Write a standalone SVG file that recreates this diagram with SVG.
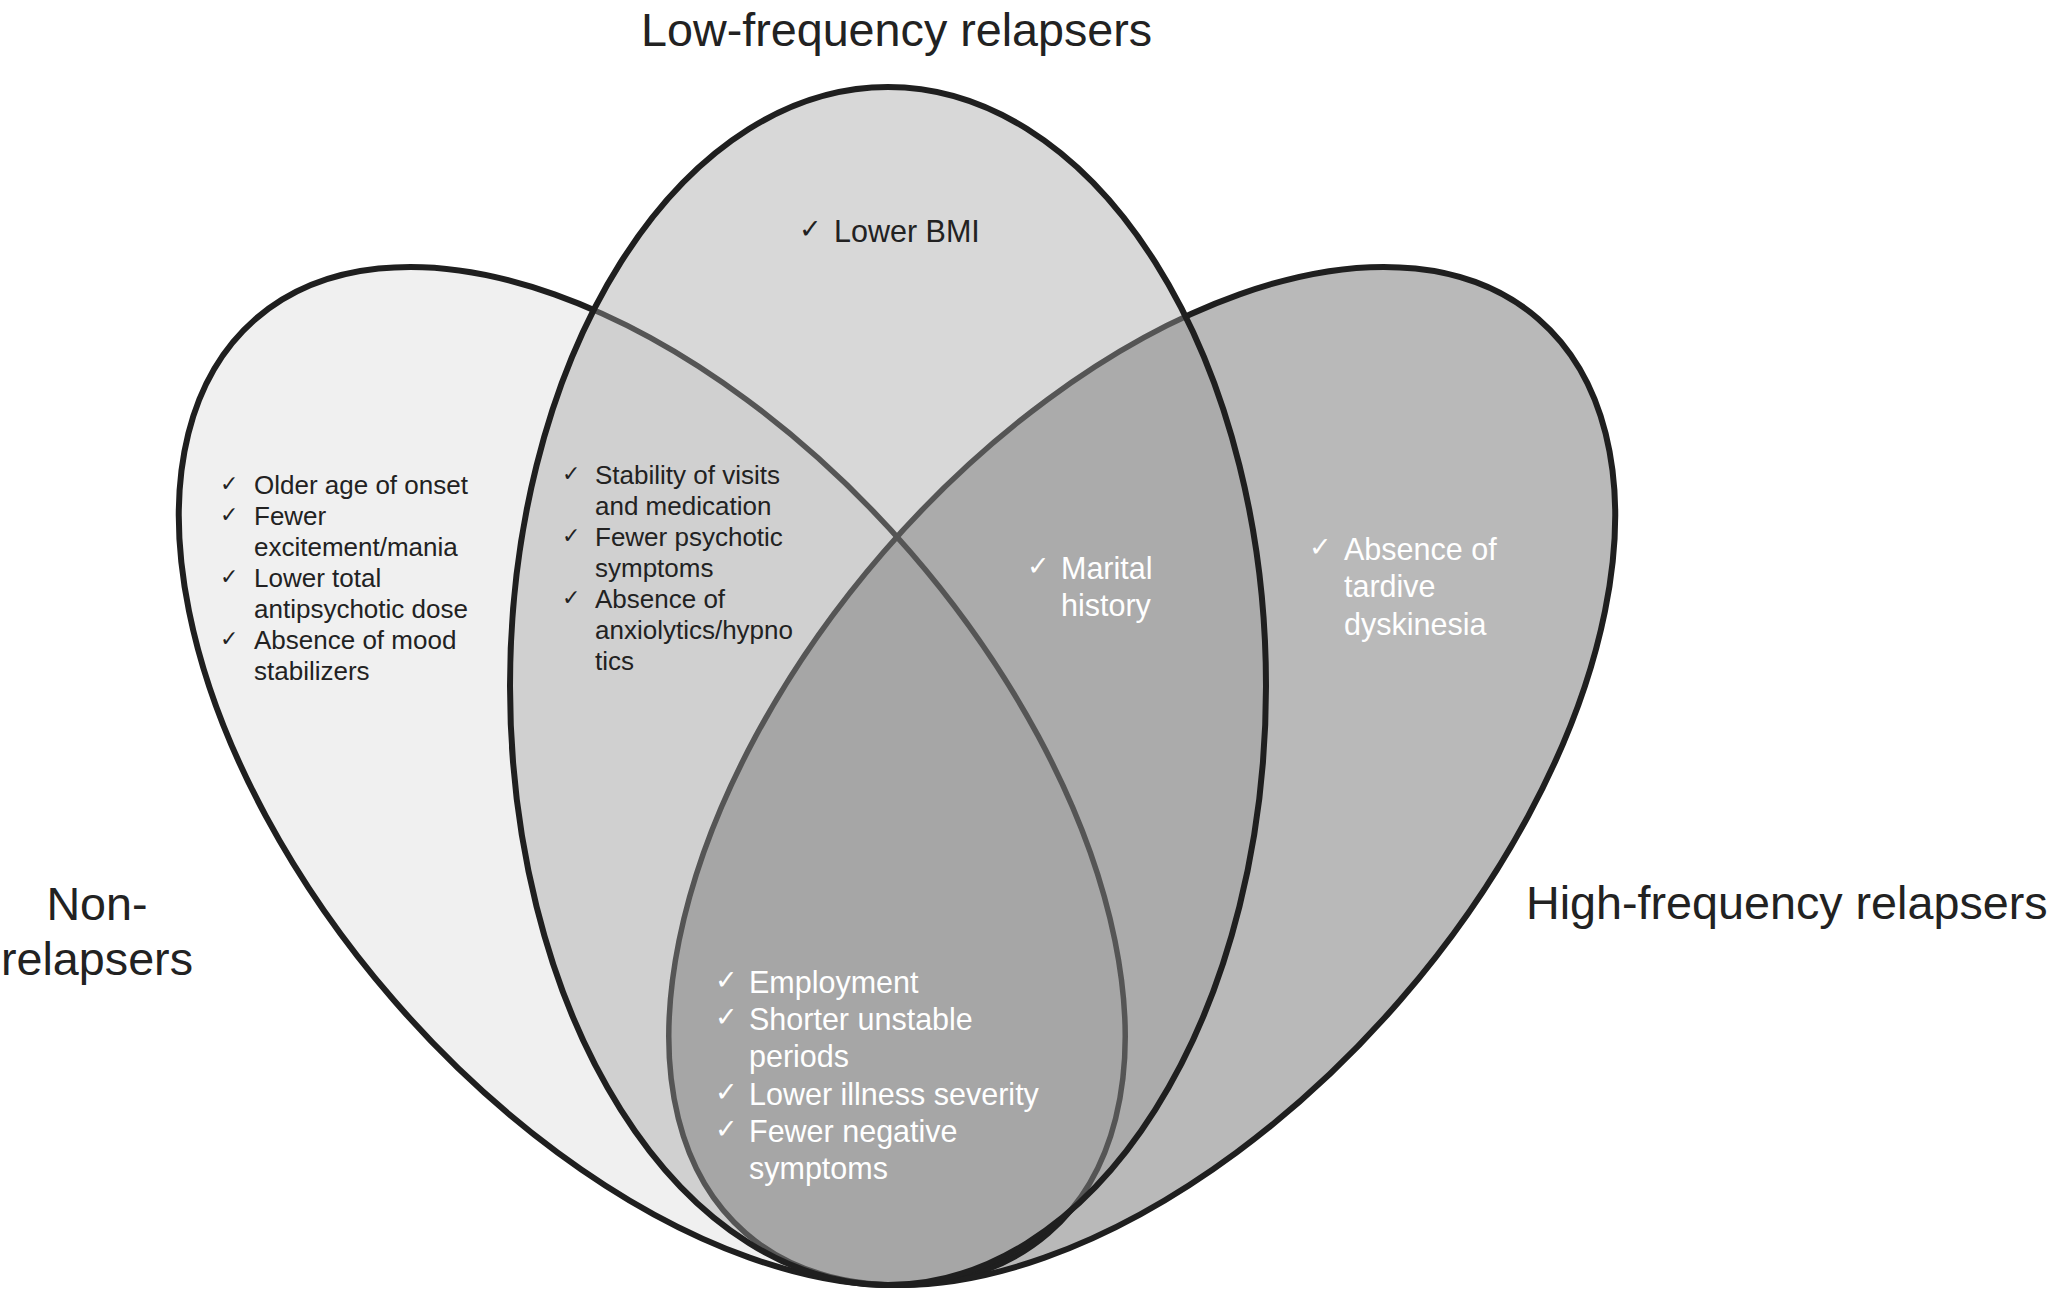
<svg xmlns="http://www.w3.org/2000/svg" xmlns:xlink="http://www.w3.org/1999/xlink" width="2050" height="1292" viewBox="0 0 2050 1292">
<style>
.t{font-family:"Liberation Sans",Arial,sans-serif;}
.title{font-size:46.7px;fill:#222;}
.dk{font-size:26px;fill:#222;}
.wh{font-size:30.5px;fill:#fff;}
.bmi{font-size:30.5px;fill:#222;}
.ck{font-family:"DejaVu Sans",sans-serif;}
.ckd{font-size:22px;fill:#222;}
.ckw{font-size:27px;fill:#fff;}
.ckb{font-size:27px;fill:#222;}
.sb{fill:none;stroke:#1f1f1f;stroke-width:6;}
.sg{fill:none;stroke:#555;stroke-width:5.5;}
</style>
<defs>
<ellipse id="eL" cx="652" cy="776" rx="605" ry="342" transform="rotate(49.07 652 776)"/>
<ellipse id="eR" cx="1142" cy="776" rx="605" ry="342" transform="rotate(-49.07 1142 776)"/>
<ellipse id="eM" cx="888" cy="686" rx="378" ry="599"/>
<clipPath id="cL"><use xlink:href="#eL"/></clipPath>
<clipPath id="cR"><use xlink:href="#eR"/></clipPath>
<clipPath id="cM"><use xlink:href="#eM"/></clipPath>
</defs>
<rect width="2050" height="1292" fill="#fff"/>
<g id="set-non-relapsers">
<use xlink:href="#eL" fill="#f0f0f0"/>
</g>
<g id="set-high-frequency">
<use xlink:href="#eR" fill="#b9b9b9"/>
<use xlink:href="#eR" fill="#b3b3b3" clip-path="url(#cL)"/>
<use xlink:href="#eL" class="sb"/>
<use xlink:href="#eR" class="sb"/>
</g>
<g id="set-low-frequency">
<use xlink:href="#eM" fill="#d8d8d8"/>
<g clip-path="url(#cM)">
<use xlink:href="#eL" fill="#d0d0d0"/>
<use xlink:href="#eR" fill="#ababab"/>
<use xlink:href="#eR" fill="#a6a6a6" clip-path="url(#cL)"/>
<use xlink:href="#eL" class="sg"/>
<use xlink:href="#eR" class="sg"/>
</g>
<use xlink:href="#eM" class="sb"/>
</g>
<g id="connectors"></g>
<g id="labels" class="t">
<text class="t title" x="641" y="46">Low-frequency relapsers</text>
<text class="t title" x="1526" y="919">High-frequency relapsers</text>
<text class="t title" x="97" y="920" text-anchor="middle">Non-</text>
<text class="t title" x="97" y="975" text-anchor="middle">relapsers</text>
</g>
<g id="items-non-relapsers">
<text class="ck ckd" x="220" y="491">✓</text>
<text class="ck ckd" x="220" y="522">✓</text>
<text class="ck ckd" x="220" y="584">✓</text>
<text class="ck ckd" x="220" y="646">✓</text>
<text class="t dk" x="254" y="494">Older age of onset</text>
<text class="t dk" x="254" y="525">Fewer</text>
<text class="t dk" x="254" y="556">excitement/mania</text>
<text class="t dk" x="254" y="587">Lower total</text>
<text class="t dk" x="254" y="618">antipsychotic dose</text>
<text class="t dk" x="254" y="649">Absence of mood</text>
<text class="t dk" x="254" y="680">stabilizers</text>
</g>
<g id="items-non-low">
<text class="ck ckd" x="562" y="481">✓</text>
<text class="ck ckd" x="562" y="543">✓</text>
<text class="ck ckd" x="562" y="605">✓</text>
<text class="t dk" x="595" y="484">Stability of visits</text>
<text class="t dk" x="595" y="515">and medication</text>
<text class="t dk" x="595" y="546">Fewer psychotic</text>
<text class="t dk" x="595" y="577">symptoms</text>
<text class="t dk" x="595" y="608">Absence of</text>
<text class="t dk" x="595" y="639">anxiolytics/hypno</text>
<text class="t dk" x="595" y="670">tics</text>
</g>
<g id="items-low">
<text class="ck ckb" x="799" y="238">✓</text>
<text class="t bmi" x="834" y="242">Lower BMI</text>
</g>
<g id="items-low-high">
<text class="ck ckw" x="1027" y="575">✓</text>
<text class="t wh" x="1061" y="579">Marital</text>
<text class="t wh" x="1061" y="616">history</text>
</g>
<g id="items-high">
<text class="ck ckw" x="1309" y="556">✓</text>
<text class="t wh" x="1344" y="560">Absence of</text>
<text class="t wh" x="1344" y="597">tardive</text>
<text class="t wh" x="1344" y="635">dyskinesia</text>
</g>
<g id="items-all">
<text class="ck ckw" x="715" y="989">✓</text>
<text class="ck ckw" x="715" y="1026">✓</text>
<text class="ck ckw" x="715" y="1101">✓</text>
<text class="ck ckw" x="715" y="1138">✓</text>
<text class="t wh" x="749" y="993">Employment</text>
<text class="t wh" x="749" y="1030">Shorter unstable</text>
<text class="t wh" x="749" y="1067">periods</text>
<text class="t wh" x="749" y="1105">Lower illness severity</text>
<text class="t wh" x="749" y="1142">Fewer negative</text>
<text class="t wh" x="749" y="1179">symptoms</text>
</g>
</svg>
